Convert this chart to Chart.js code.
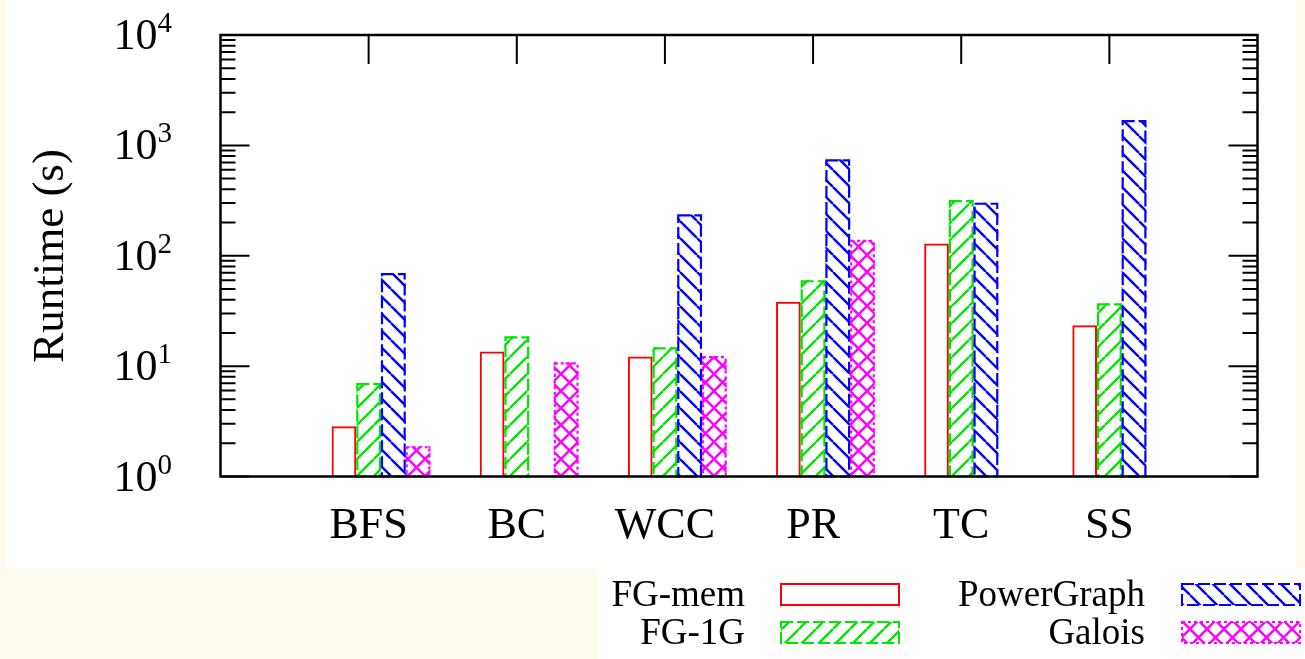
<!DOCTYPE html>
<html>
<head>
<meta charset="utf-8">
<title>Runtime</title>
<script src="https://cdn.jsdelivr.net/npm/chart.js"></script>
<style>
  html, body { margin: 0; padding: 0; background: #fffbef; }
  #chartContainer { position: relative; width: 1305px; height: 659px; }
</style>
</head>
<body>
<div id="chartContainer"><canvas id="chart" width="1305" height="659"></canvas></div>
<script>
const categories = ['BFS', 'BC', 'WCC', 'PR', 'TC', 'SS']
const fgMem = [2.85, 13.6, 12.2, 38.3, 129, 23.4]
const fg1G = [7.0, 18.6, 14.8, 60, 319, 37]
const powerGraph = [69.5, null, 237, 747, 302, 1695]
const galois = [1.88, 10.8, 12.3, 139, null, null]
// empty slot in front of each cluster, the bars sit right of the tick like gnuplot does
const spacerSlot = [null, null, null, null, null, null]
const yTickValues = [1, 10, 100, 1000, 10000]
const yTickExponents = ['0', '1', '2', '3', '4']

const serif = "'Liberation Serif', 'Times New Roman', serif"
const ctx = document.getElementById('chart').getContext('2d')

// pad one empty category on each side so the axis runs from -1 to 6
const pad = arr => [null, ...arr, null]

function makeHatch(color, kind, size) {
    const c = document.createElement('canvas')
    c.width = size
    c.height = size
    const g = c.getContext('2d')
    g.strokeStyle = color
    g.lineWidth = 2.4
    g.beginPath()
    for (const o of [-size, 0, size]) {
        if (kind === 'fwd' || kind === 'cross') { g.moveTo(o, size); g.lineTo(o + size, 0) }
        if (kind === 'back' || kind === 'cross') { g.moveTo(o, 0); g.lineTo(o + size, size) }
    }
    g.stroke()
    return ctx.createPattern(c, 'repeat')
}

const greenHatch = makeHatch('#00e600', 'fwd', 17)
const blueHatch = makeHatch('#0000ff', 'back', 17)
const magentaHatch = makeHatch('#ff00ff', 'cross', 17)

const background = {
    id: 'background',
    beforeDraw(chart) {
        const c = chart.ctx
        c.save()
        c.fillStyle = '#fffbef'
        c.fillRect(0, 0, chart.width, chart.height)
        c.fillStyle = '#ffffff'
        c.fillRect(6, 0, 1290, 569)
        c.fillRect(598, 569, 707, 90)
        c.restore()
    }
}

const barOutlines = {
    id: 'barOutlines',
    afterDatasetsDraw(chart) {
        const c = chart.ctx
        chart.data.datasets.forEach((ds, i) => {
            if (!ds.outlineDash) return
            const meta = chart.getDatasetMeta(i)
            c.save()
            c.strokeStyle = ds.outlineColor
            c.lineWidth = 2.2
            c.setLineDash(ds.outlineDash)
            meta.data.forEach((bar, j) => {
                if (ds.data[j] == null) return
                const p = bar.getProps(['x', 'y', 'base', 'width'], true)
                c.strokeRect(p.x - p.width / 2 + 1, p.y + 1, p.width - 2, p.base - p.y - 1)
            })
            c.restore()
        })
    }
}

function drawSwatch(c, x, y, w, h, fill, color, dash) {
    c.save()
    if (fill) {
        c.fillStyle = fill
        c.fillRect(x, y, w, h)
    }
    c.strokeStyle = color
    c.lineWidth = 2
    c.setLineDash(dash)
    c.strokeRect(x, y, w, h)
    c.restore()
}

const gnuplotFrame = {
    id: 'gnuplotFrame',
    afterDraw(chart) {
        const c = chart.ctx
        const { left, right, top, bottom } = chart.chartArea
        const xs = chart.scales.x
        const ys = chart.scales.y
        c.save()
        c.strokeStyle = '#000'
        c.lineWidth = 2
        c.beginPath()
        yTickValues.forEach((v, k) => {
            const py = ys.getPixelForValue(v)
            c.moveTo(left, py); c.lineTo(left + 29, py)
            c.moveTo(right, py); c.lineTo(right - 29, py)
            if (k < yTickValues.length - 1) {
                for (let m = 2; m <= 9; m++) {
                    const my = ys.getPixelForValue(v * m)
                    c.moveTo(left, my); c.lineTo(left + 15, my)
                    c.moveTo(right, my); c.lineTo(right - 15, my)
                }
            }
        })
        categories.forEach((cat, i) => {
            const px = xs.getPixelForValue(i + 1)
            c.moveTo(px, top); c.lineTo(px, top + 29)
        })
        c.stroke()
        c.lineWidth = 2.5
        c.strokeRect(left, top, right - left, bottom - top)

        c.fillStyle = '#000'
        // category labels
        c.font = '44px ' + serif
        c.textAlign = 'center'
        c.textBaseline = 'alphabetic'
        categories.forEach((cat, i) => {
            c.fillText(cat, xs.getPixelForValue(i + 1), 538)
        })

        // 10^n tick labels
        c.textAlign = 'left'
        yTickValues.forEach((v, k) => {
            const py = ys.getPixelForValue(v)
            c.font = '29px ' + serif
            const expW = c.measureText(yTickExponents[k]).width
            c.font = '44px ' + serif
            const tenW = c.measureText('10').width
            const xr = 172
            c.fillText('10', xr - expW - tenW, py + 14)
            c.font = '29px ' + serif
            c.fillText(yTickExponents[k], xr - expW, py - 3)
        })

        // axis title
        c.save()
        c.translate(63, 256)
        c.rotate(-Math.PI / 2)
        c.font = '45px ' + serif
        c.textAlign = 'center'
        c.fillText('Runtime (s)', 0, 0)
        c.restore()

        // legend
        c.font = '37px ' + serif
        c.textAlign = 'right'
        c.fillText('FG-mem', 745, 606)
        c.fillText('FG-1G', 745, 644)
        c.fillText('PowerGraph', 1145, 606)
        c.fillText('Galois', 1145, 644)
        drawSwatch(c, 781, 584, 118, 21, null, '#ff0000', [])
        drawSwatch(c, 781, 622, 118, 21, greenHatch, '#00e600', [12, 4])
        drawSwatch(c, 1182, 584, 118, 21, blueHatch, '#0000ff', [12, 4])
        drawSwatch(c, 1182, 622, 118, 21, magentaHatch, '#ff00ff', [3, 3])
        c.restore()
    }
}

new Chart(ctx, {
    type: 'bar',
    data: {
        labels: pad(categories).map(c => c || ''),
        datasets: [
            { label: '', data: pad(spacerSlot), backgroundColor: 'rgba(0,0,0,0)', borderWidth: 0 },
            { label: 'FG-mem', data: pad(fgMem), backgroundColor: 'rgba(0,0,0,0)', borderColor: '#ff0000', borderWidth: 2 },
            { label: 'FG-1G', data: pad(fg1G), backgroundColor: greenHatch, borderWidth: 0, outlineColor: '#00e600', outlineDash: [12, 4] },
            { label: 'PowerGraph', data: pad(powerGraph), backgroundColor: blueHatch, borderWidth: 0, outlineColor: '#0000ff', outlineDash: [12, 4] },
            { label: 'Galois', data: pad(galois), backgroundColor: magentaHatch, borderWidth: 0, outlineColor: '#ff00ff', outlineDash: [3, 3] }
        ]
    },
    options: {
        responsive: false,
        animation: false,
        layout: { padding: { left: 0, top: 35, right: 47.5, bottom: 0 } },
        datasets: { bar: { categoryPercentage: 5 / 6, barPercentage: 1 } },
        plugins: { legend: { display: false }, tooltip: { enabled: false } },
        scales: {
            x: {
                type: 'category',
                offset: false,
                grid: { display: false },
                border: { display: false },
                ticks: { display: false },
                afterFit: s => { s.height = 182.5 }
            },
            y: {
                type: 'logarithmic',
                min: 1,
                max: 10000,
                grid: { display: false },
                border: { display: false },
                ticks: { display: false },
                afterFit: s => { s.width = 220.5 }
            }
        }
    },
    plugins: [background, barOutlines, gnuplotFrame]
})
</script>
</body>
</html>
